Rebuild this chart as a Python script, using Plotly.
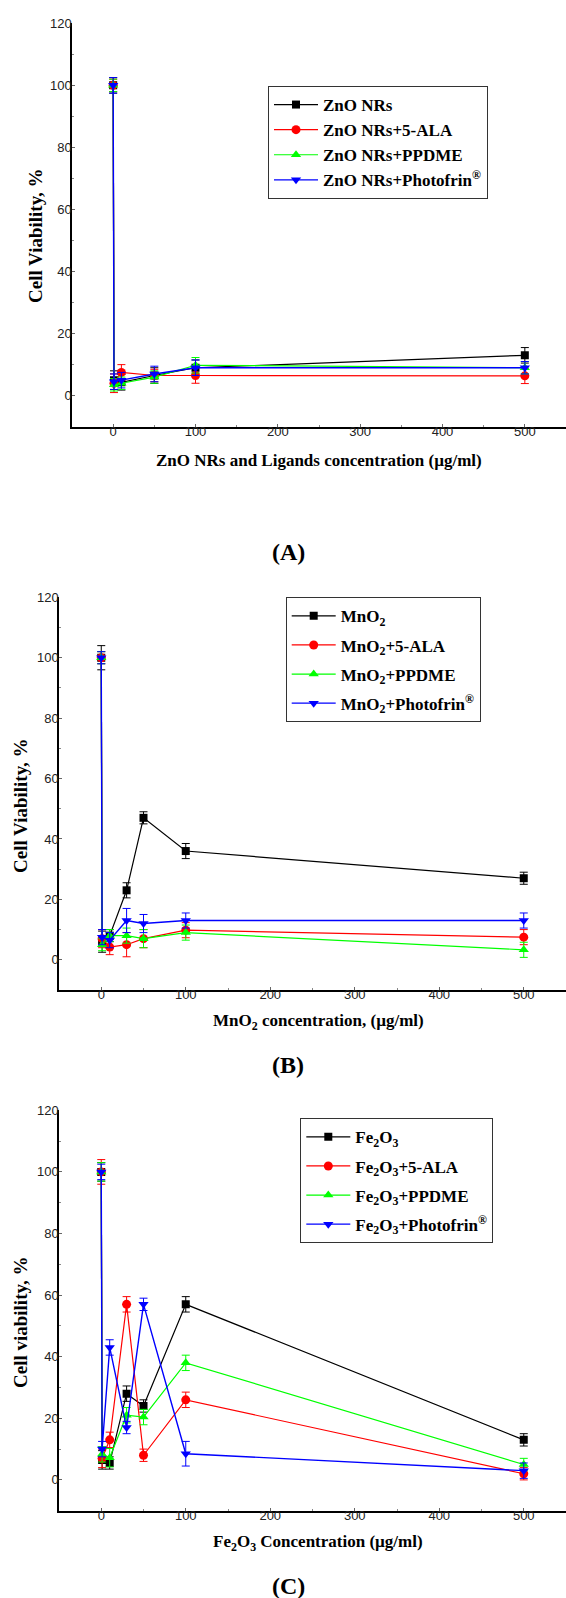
import plotly.graph_objects as go

W, H = 566, 1598

# ---------------- data ----------------
# Panel A: ZnO NRs
A_x = [0, 1, 10, 50, 100, 500]
A_zno = [100, 5, 4.3, 6.5, 9, 13]
A_zno_err = [2.5, 3, 2.5, 2.5, 2.5, 2.5]
A_ala = [100, 4, 7.5, 6.5, 6.5, 6.4]
A_ala_err = [2, 3, 2.5, 2, 2.5, 2.5]
A_ppdme = [100, 3.5, 4, 6, 9.8, 9]
A_ppdme_err = [2, 2, 2, 2, 2.5, 2]
A_photo = [100, 4.5, 5, 7, 9, 9]
A_photo_err = [2.5, 2.5, 2.5, 2.5, 2.5, 2]

# Panel B: MnO2
B_x = [0, 1, 10, 30, 50, 100, 500]
B_mno = [100, 6, 8, 23, 47, 36, 27]
B_mno_err = [4, 3.5, 2, 2.5, 2, 2.5, 2]
B_ala = [100, 7, 4.2, 5, 7, 9.8, 7.5]
B_ala_err = [2, 3, 2.5, 4, 3, 2.5, 2.5]
B_ppdme = [100, 5, 8, 8, 7, 9, 3.3]
B_ppdme_err = [2, 2, 2, 2.5, 3, 2.5, 2.5]
B_photo = [100, 7.5, 6.5, 13, 12, 13, 13]
B_photo_err = [2, 2.5, 2.5, 4, 3, 2.5, 2.5]

# Panel C: Fe2O3
C_x = [0, 1, 10, 30, 50, 100, 500]
C_fe = [100, 6.5, 5.5, 28, 24, 57, 13]
C_fe_err = [3, 3, 2, 2.5, 2, 2.5, 2]
C_ala = [100, 7, 13, 57, 8, 26, 2]
C_ala_err = [4, 3, 2.5, 2.5, 2, 2.5, 2]
C_ppdme = [100, 8.3, 7.2, 21, 20.4, 38, 5]
C_ppdme_err = [3, 2.5, 3, 2.5, 2.5, 2.5, 2]
C_photo = [100, 10, 43, 17, 57, 8.5, 3]
C_photo_err = [2.5, 2.5, 2.5, 2, 2, 4, 2.5]

y_ticks = [0, 20, 40, 60, 80, 100, 120]
x_ticks = [0, 100, 200, 300, 400, 500]

COLORS = ["#000000", "#FF0000", "#00FF00", "#0000FF"]
SYMBOLS = ["square", "circle", "triangle-up", "triangle-down"]

def px(v):
    return v / W

def py(v):
    return 1 - v / H

fig = go.Figure()

panels = [
    dict(x=A_x,
         series=[(A_zno, A_zno_err, "ZnO NRs"),
                 (A_ala, A_ala_err, "ZnO NRs+5-ALA"),
                 (A_ppdme, A_ppdme_err, "ZnO NRs+PPDME"),
                 (A_photo, A_photo_err, "ZnO NRs+Photofrin<sup>®</sup>")],
         xdom=[px(72), 1.0], ydom=[py(426.7), py(23.3)],
         legend=dict(x=px(268), y=py(86)), gap=0,
         xtitle="ZnO NRs and Ligands concentration (µg/ml)", xt_pos=(319, 460),
         ytitle="Cell Viability, %", yt_pos=(35, 236),
         label="(A)", lab_pos=(288, 552)),
    dict(x=B_x,
         series=[(B_mno, B_mno_err, "MnO<sub>2</sub>"),
                 (B_ala, B_ala_err, "MnO<sub>2</sub>+5-ALA"),
                 (B_ppdme, B_ppdme_err, "MnO<sub>2</sub>+PPDME"),
                 (B_photo, B_photo_err, "MnO<sub>2</sub>+Photofrin<sup>®</sup>")],
         xdom=[px(59), 1.0], ydom=[py(990), py(597.3)],
         legend=dict(x=px(285.7), y=py(597.3)), gap=4,
         xtitle="MnO<sub>2</sub> concentration, (µg/ml)", xt_pos=(318, 1022),
         ytitle="Cell Viability, %", yt_pos=(20, 806),
         label="(B)", lab_pos=(288, 1065)),
    dict(x=C_x,
         series=[(C_fe, C_fe_err, "Fe<sub>2</sub>O<sub>3</sub>"),
                 (C_ala, C_ala_err, "Fe<sub>2</sub>O<sub>3</sub>+5-ALA"),
                 (C_ppdme, C_ppdme_err, "Fe<sub>2</sub>O<sub>3</sub>+PPDME"),
                 (C_photo, C_photo_err, "Fe<sub>2</sub>O<sub>3</sub>+Photofrin<sup>®</sup>")],
         xdom=[px(59), 1.0], ydom=[py(1510.7), py(1110.3)],
         legend=dict(x=px(300.3), y=py(1118.3)), gap=4,
         xtitle="Fe<sub>2</sub>O<sub>3</sub> Concentration (µg/ml)", xt_pos=(318, 1543),
         ytitle="Cell viability, %", yt_pos=(20, 1323),
         label="(C)", lab_pos=(288, 1586)),
]

SERIF = "Liberation Serif, Times New Roman, serif"
SANS = "Liberation Sans, Arial, sans-serif"
annotations = []
layout = {}

for i, p in enumerate(panels):
    n = i + 1
    xa = "x" if n == 1 else f"x{n}"
    ya = "y" if n == 1 else f"y{n}"
    leg = "legend" if n == 1 else f"legend{n}"
    for k, (vals, err, name) in enumerate(p["series"]):
        fig.add_trace(go.Scatter(
            x=p["x"], y=vals, mode="lines+markers",
            name="<b>" + name + "</b>",
            legendgroup=f"p{n}s{k}",
            line=dict(color=COLORS[k], width=1.2 if k < 3 else 1.4),
            marker=dict(symbol=SYMBOLS[k], size=9 if k else 8, color=COLORS[k]),
            error_y=dict(type="data", array=err, visible=True, color=COLORS[k],
                         thickness=1, width=4),
            xaxis=xa, yaxis=ya, legend=leg, showlegend=True,
        ))
    xkey = "xaxis" if n == 1 else f"xaxis{n}"
    ykey = "yaxis" if n == 1 else f"yaxis{n}"
    layout[xkey] = dict(
        domain=p["xdom"], anchor=ya, range=[-50, 550], automargin=False,
        tickvals=x_ticks, showgrid=False, zeroline=False,
        showline=True, linecolor="#000", linewidth=1.5,
        ticks="inside", ticklen=3, tickcolor="#666",
        minor=dict(dtick=50, tick0=0, ticks="inside", ticklen=2, tickcolor="#888"),
        tickfont=dict(family=SANS, size=13, color="#222"),
        ticklabelstandoff=-8,
    )
    layout[ykey] = dict(
        domain=p["ydom"], anchor=xa, range=[-10, 120], automargin=False,
        tickvals=y_ticks, showgrid=False, zeroline=False,
        showline=True, linecolor="#000", linewidth=1.5,
        ticks="inside", ticklen=3, tickcolor="#666",
        minor=dict(dtick=10, tick0=0, ticks="inside", ticklen=2, tickcolor="#888"),
        tickfont=dict(family=SANS, size=13, color="#222"),
        ticklabelstandoff=-4,
    )
    layout[leg] = dict(
        x=p["legend"]["x"], y=p["legend"]["y"], xanchor="left", yanchor="top",
        bordercolor="#333", borderwidth=1, bgcolor="rgba(255,255,255,0)",
        font=dict(family=SERIF, size=17, color="#000"),
        tracegroupgap=p["gap"], itemsizing="trace", itemwidth=44,
    )
    annotations.append(dict(
        text="<b>" + p["xtitle"] + "</b>", xref="paper", yref="paper",
        x=px(p["xt_pos"][0]), y=py(p["xt_pos"][1]), xanchor="center", yanchor="middle",
        showarrow=False, font=dict(family=SERIF, size=17, color="#000")))
    annotations.append(dict(
        text="<b>" + p["ytitle"] + "</b>", xref="paper", yref="paper", textangle=-90,
        x=px(p["yt_pos"][0]), y=py(p["yt_pos"][1]), xanchor="center", yanchor="middle",
        showarrow=False, font=dict(family=SERIF, size=19, color="#000")))
    annotations.append(dict(
        text="<b>" + p["label"] + "</b>", xref="paper", yref="paper",
        x=px(p["lab_pos"][0]), y=py(p["lab_pos"][1]), xanchor="center", yanchor="middle",
        showarrow=False, font=dict(family=SERIF, size=24, color="#000")))

fig.update_layout(
    width=W, height=H, autosize=False,
    margin=dict(l=0, r=0, t=0, b=0, autoexpand=False),
    paper_bgcolor="white", plot_bgcolor="white",
    annotations=annotations,
    **layout,
)

fig.write_html(
    "out.html",
    config={"displayModeBar": False},
    post_script="document.body.style.margin='0';document.body.style.overflow='hidden';",
)
